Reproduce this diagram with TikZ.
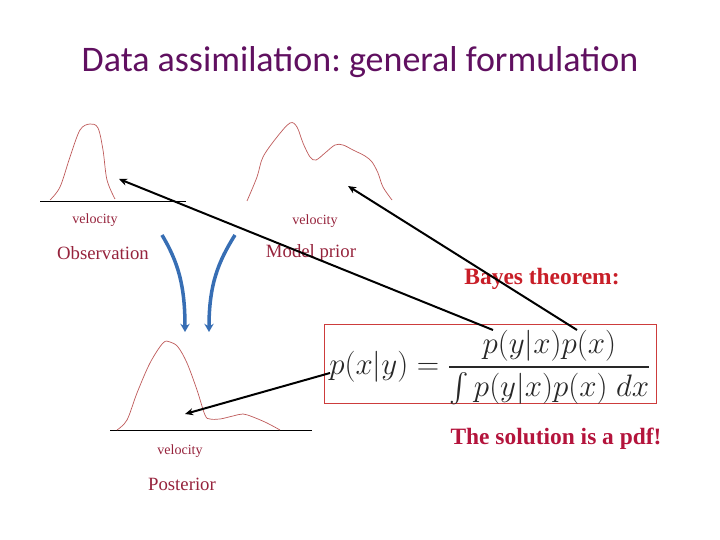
\RequirePackage{fix-cm}
\documentclass[tikz,border=0pt]{standalone}
\usepackage{amsmath}
\usepackage{fontspec}
\setmainfont{Liberation Serif}
\newfontfamily\titlefont{Carlito}
\usetikzlibrary{calc,arrows.meta,positioning}
\frenchspacing

\definecolor{titlepurple}{RGB}{96,16,96}
\definecolor{labelred}{RGB}{150,35,60}
\definecolor{bayesred}{RGB}{200,30,40}
\definecolor{pdfred}{RGB}{180,20,60}
\definecolor{curvered}{RGB}{190,90,90}
\definecolor{arrowblue}{RGB}{55,110,180}
\definecolor{boxred}{RGB}{205,60,60}
\definecolor{formulagray}{RGB}{40,40,40}

\begin{document}
\begin{tikzpicture}[
  x=0.03cm,y=-0.03cm,
  label text/.style={text=labelred,inner sep=0pt},
  pdf curve/.style={draw=curvered,line width=.6pt},
  link/.style={draw=black,line width=1.7pt,-{Stealth[length=7pt,width=6pt]}},
  flow/.style={draw=arrowblue,line width=3pt,-{Stealth[length=7pt,width=8pt]}},
  ]
  \useasboundingbox (0,0) rectangle (720,540);

  %title
  \node (title) [font=\titlefont\fontsize{30.7}{36}\selectfont,text=titlepurple] at (360,62) {Data assimilation: general formulation};

  %observation
  \draw[line width=.8pt] (40,201) -- (186,201);
  \draw[pdf curve] plot[smooth,tension=.55] coordinates {(50,200) (60,187) (70,157) (80,130) (90,124) (98,128) (103,150) (107,180) (115,199)};
  \node (vel_obs) [label text,font=\fontsize{12}{14}\selectfont] at (95,220) {velocity};
  \node (obs_name) [label text,font=\fontsize{16}{19}\selectfont] at (103,253) {Observation};
  \coordinate (obs_pt) at (119,179);

  %model prior
  \draw[pdf curve] plot[smooth,tension=.55] coordinates {(247,201) (257,177) (263,157) (277,137) (290,123) (297,127) (303,143) (310,157) (316,160) (325,153) (335,145) (343,145) (353,150) (365,156) (372,162) (378,173) (383,187) (392,200)};
  \node (vel_prior) [label text,font=\fontsize{12}{14}\selectfont] at (315,221) {velocity};
  \node (prior_name) [label text,font=\fontsize{16}{19}\selectfont] at (311,253) {Model prior};
  \coordinate (prior_pt) at (348,186);

  %posterior
  \draw[line width=.8pt] (110,430) -- (312,430);
  \draw[pdf curve] plot[smooth,tension=.55] coordinates {(117,430) (127,420) (137,393) (150,363) (163,343) (170,342) (178,347) (187,363) (197,390) (205,415) (210,419) (220,419) (233,416) (243,414) (253,417) (267,423) (280,430)};
  \node (vel_post) [label text,font=\fontsize{12}{14}\selectfont] at (180,451) {velocity};
  \node (post_name) [label text,font=\fontsize{16}{19}\selectfont] at (182,484) {Posterior};
  \coordinate (post_pt) at (185,414);

  %update arrows
  \coordinate (obs_flow) at (162,235);
  \coordinate (prior_flow) at (235,235);
  \coordinate (post_flow_l) at (185,332);
  \coordinate (post_flow_r) at (209,332);
  \draw[flow] (obs_flow) .. controls (178,262) and (185,285) .. (post_flow_l);
  \draw[flow] (prior_flow) .. controls (218,262) and (209,285) .. (post_flow_r);

  %bayes
  \node (bayes_title) [font=\bfseries\fontsize{20}{24}\selectfont,text=bayesred] at (542,279) {Bayes theorem:};
  \node (bayes) [draw=boxred,line width=.8pt,minimum width=9.96cm,minimum height=2.37cm,inner sep=0pt] at (490,363.5) {};
  \node (formula) [inner sep=0pt,text=formulagray,font=\fontsize{26.5}{30}\selectfont] at ($(bayes.center)+(0,4)$) {$\displaystyle p(x|y)=\frac{p(y|x)p(x)}{\int p(y|x)p(x)\;dx}$};
  \node (pdf_note) [font=\bfseries\fontsize{20}{24}\selectfont,text=pdfred] at (556,439) {The solution is a pdf!};
  \coordinate (num_left) at (493,330);
  \coordinate (num_right) at (577,330);
  \coordinate (lhs) at (330,373);

  %links
  \draw[link] (num_left) -- (obs_pt);
  \draw[link] (num_right) -- (prior_pt);
  \draw[link] (lhs) -- (post_pt);

\end{tikzpicture}
\end{document}
